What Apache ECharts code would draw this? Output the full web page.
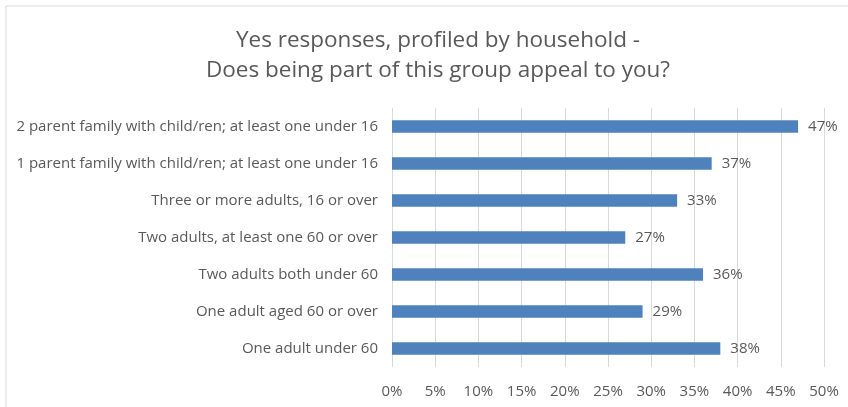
<!DOCTYPE html>
<html>
<head>
<meta charset="utf-8">
<script src="https://cdn.jsdelivr.net/npm/echarts@6/dist/echarts.min.js"></script>
<style>
  html, body { margin: 0; padding: 0; background: #fff; }
  #chart { width: 848px; height: 407px; }
</style>
</head>
<body>
<div id="chart"></div>
<script>
// Household types, listed bottom to top as the category axis draws them
const categories = [
  'One adult under 60',
  'One adult aged 60 or over',
  'Two adults both under 60',
  'Two adults, at least one 60 or over',
  'Three or more adults, 16 or over',
  '1 parent family with child/ren; at least one under 16',
  '2 parent family with child/ren; at least one under 16'
];
// Share of "yes" answers, in percent
const yesPercent = [38, 29, 36, 27, 33, 37, 47];
const titleLines = [
  'Yes responses, profiled by household -',
  'Does being part of this group appeal to you?'
];

const textColor = '#595959';
const fontFamily = '"Open Sans", Lato, sans-serif';

const chart = echarts.init(document.getElementById('chart'), null, { renderer: 'canvas' });
chart.setOption({
  animation: false,
  backgroundColor: '#ffffff',
  title: {
    text: titleLines.join('\n'),
    left: 433,
    top: 21,
    textAlign: 'center',
    textStyle: {
      color: textColor,
      fontFamily: fontFamily,
      fontWeight: 'normal',
      fontSize: 22.5,
      lineHeight: 30
    }
  },
  graphic: [{
    type: 'rect',
    shape: { x: 6, y: 6, width: 900, height: 500 },
    style: { fill: 'none', stroke: '#d9d9d9', lineWidth: 1 },
    silent: true
  }],
  grid: { left: 392, right: 24, top: 108, bottom: 40, containLabel: false },
  xAxis: {
    type: 'value',
    min: 0,
    max: 50,
    interval: 5,
    axisLine: { show: false },
    axisTick: { show: false },
    axisLabel: {
      formatter: '{value}%',
      color: textColor,
      fontFamily: fontFamily,
      fontSize: 15,
      margin: 17
    },
    splitLine: { show: true, lineStyle: { color: '#d9d9d9', width: 1 } }
  },
  yAxis: {
    type: 'category',
    data: categories,
    axisLine: { show: false },
    axisTick: { show: false },
    axisLabel: {
      color: textColor,
      fontFamily: fontFamily,
      fontSize: 15,
      margin: 14
    }
  },
  series: [{
    type: 'bar',
    data: yesPercent,
    barWidth: '34%',
    itemStyle: { color: '#4f81bd' },
    label: {
      show: true,
      position: 'right',
      distance: 10,
      formatter: '{c}%',
      color: textColor,
      fontFamily: fontFamily,
      fontSize: 15
    }
  }]
});
</script>
</body>
</html>
